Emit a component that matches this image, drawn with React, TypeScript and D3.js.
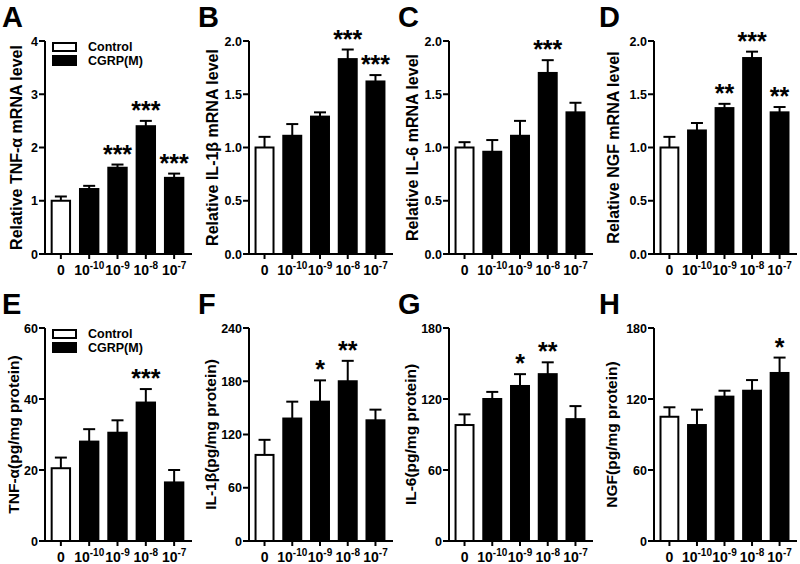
import React from "react";
import * as d3 from "d3";

const categories = ["0", "-10", "-9", "-8", "-7"];

const aValues = [1.0, 1.22, 1.62, 2.4, 1.43];
const aErrors = [0.08, 0.06, 0.06, 0.1, 0.08];
const aStars = ["", "", "***", "***", "***"];

const bValues = [1.0, 1.11, 1.29, 1.83, 1.62];
const bErrors = [0.1, 0.11, 0.04, 0.09, 0.06];
const bStars = ["", "", "", "***", "***"];

const cValues = [1.0, 0.96, 1.11, 1.7, 1.33];
const cErrors = [0.05, 0.11, 0.14, 0.12, 0.09];
const cStars = ["", "", "", "***", ""];

const dValues = [1.0, 1.16, 1.37, 1.84, 1.33];
const dErrors = [0.1, 0.07, 0.04, 0.06, 0.05];
const dStars = ["", "", "**", "***", "**"];

const eValues = [20.5, 28, 30.5, 39, 16.5];
const eErrors = [3, 3.5, 3.5, 3.8, 3.5];
const eStars = ["", "", "", "***", ""];

const fValues = [97, 138, 157, 180, 136];
const fErrors = [17, 19, 24, 23, 12];
const fStars = ["", "", "*", "**", ""];

const gValues = [98, 120, 131, 141, 103];
const gErrors = [9, 6, 10, 10, 11];
const gStars = ["", "", "*", "**", ""];

const hValues = [105, 98, 122, 127, 142];
const hErrors = [8, 13, 5, 9, 13];
const hStars = ["", "", "", "", "*"];

const ticksMRNA4 = [0, 1, 2, 3, 4];
const ticksMRNA2 = [0, 0.5, 1.0, 1.5, 2.0];
const ticks60 = [0, 20, 40, 60];
const ticks240 = [0, 60, 120, 180, 240];
const ticks180 = [0, 60, 120, 180];

const legendLabels = ["Control", "CGRP(M)"];

const FONT = "'Liberation Sans', Arial, sans-serif";

type PanelProps = {
  letter: string;
  letterX: number;
  letterY: number;
  axisX: number;
  axisEnd: number;
  top: number;
  bottom: number;
  max: number;
  ticks: number[];
  fmt: (v: number) => string;
  label: React.ReactNode;
  labelX: number;
  labelSize: number;
  values: number[];
  errors: number[];
  stars: string[];
  legend?: boolean;
};

function Panel(p: PanelProps) {
  const y = d3.scaleLinear().domain([0, p.max]).range([p.bottom, p.top]);
  const x = d3
    .scaleBand<string>()
    .domain(categories)
    .range([p.axisX, p.axisEnd - 2])
    .paddingInner(0.28)
    .paddingOuter(0.2);
  const bw = x.bandwidth();
  const labelY = (p.top + p.bottom) / 2;
  return (
    <g>
      <text x={p.letterX} y={p.letterY} fontFamily={FONT} fontWeight="bold" fontSize={29}>
        {p.letter}
      </text>
      <text
        transform={`translate(${p.labelX},${labelY}) rotate(-90)`}
        textAnchor="middle"
        fontFamily={FONT}
        fontWeight="bold"
        fontSize={p.labelSize}
      >
        {p.label}
      </text>
      {p.values.map((v, i) => {
        const c = categories[i];
        const x0 = x(c)!;
        const cx = x0 + bw / 2;
        const yTop = y(v);
        const yErr = y(v + p.errors[i]);
        return (
          <g key={c}>
            <line x1={cx} x2={cx} y1={yTop} y2={yErr} stroke="#000" strokeWidth={2} />
            <line x1={cx - 6} x2={cx + 6} y1={yErr} y2={yErr} stroke="#000" strokeWidth={2} />
            <rect
              x={x0 + 1}
              y={yTop}
              width={bw - 2}
              height={p.bottom - yTop}
              fill={i === 0 ? "#fff" : "#000"}
              stroke="#000"
              strokeWidth={2}
            />
            {p.stars[i] && (
              <text
                x={cx}
                y={yErr - 2}
                textAnchor="middle"
                fontFamily={FONT}
                fontWeight="bold"
                fontSize={25}
              >
                {p.stars[i]}
              </text>
            )}
            <line x1={cx} x2={cx} y1={p.bottom} y2={p.bottom + 5} stroke="#000" strokeWidth={2} />
            <text
              x={cx}
              y={p.bottom + 21}
              textAnchor="middle"
              fontFamily={FONT}
              fontWeight="bold"
              fontSize={14}
            >
              {c === "0" ? (
                "0"
              ) : (
                <>
                  <tspan>10</tspan>
                  <tspan fontSize={10} dy={-6}>
                    {c}
                  </tspan>
                </>
              )}
            </text>
          </g>
        );
      })}
      <line x1={p.axisX} x2={p.axisX} y1={p.top} y2={p.bottom + 1} stroke="#000" strokeWidth={2} />
      <line x1={p.axisX - 1} x2={p.axisEnd} y1={p.bottom} y2={p.bottom} stroke="#000" strokeWidth={2} />
      {p.ticks.map((t) => (
        <g key={t}>
          <line x1={p.axisX - 6} x2={p.axisX} y1={y(t)} y2={y(t)} stroke="#000" strokeWidth={2} />
          <text
            x={p.axisX - 7}
            y={y(t) + 4.5}
            textAnchor="end"
            fontFamily={FONT}
            fontWeight="bold"
            fontSize={12.5}
          >
            {p.fmt(t)}
          </text>
        </g>
      ))}
      {p.legend &&
        legendLabels.map((l, i) => (
          <g key={l}>
            <rect
              x={p.axisX + 8}
              y={p.top + 2 + i * 13}
              width={23}
              height={i === 0 ? 8 : 9}
              fill={i === 0 ? "#fff" : "#000"}
              stroke="#000"
              strokeWidth={2}
            />
            <text
              x={p.axisX + 43}
              y={p.top + 10 + i * 14}
              fontFamily={FONT}
              fontWeight="bold"
              fontSize={12.5}
            >
              {l}
            </text>
          </g>
        ))}
    </g>
  );
}

const f0 = (v: number) => d3.format("d")(v);
const f1 = (v: number) => d3.format(".1f")(v);

export default function App() {
  return (
    <svg width={800} height={564} style={{ position: "absolute", left: 0, top: 0, background: "#fff" }}>
      <rect width={800} height={564} fill="#fff" />
      <Panel letter="A" letterX={2} letterY={27} axisX={45} axisEnd={192} top={41} bottom={254} max={4}
        ticks={ticksMRNA4} fmt={f0} label={<>Relative TNF-α mRNA level</>} labelX={22} labelSize={16}
        values={aValues} errors={aErrors} stars={aStars} legend />
      <Panel letter="B" letterX={198} letterY={27} axisX={249} axisEnd={393} top={41} bottom={254} max={2}
        ticks={ticksMRNA2} fmt={f1} label={<>Relative IL-1β mRNA level</>} labelX={218} labelSize={16}
        values={bValues} errors={bErrors} stars={bStars} />
      <Panel letter="C" letterX={398} letterY={27} axisX={449} axisEnd={593} top={41} bottom={254} max={2}
        ticks={ticksMRNA2} fmt={f1} label={<>Relative IL-6 mRNA level</>} labelX={418} labelSize={16}
        values={cValues} errors={cErrors} stars={cStars} />
      <Panel letter="D" letterX={599} letterY={27} axisX={654} axisEnd={797} top={41} bottom={254} max={2}
        ticks={ticksMRNA2} fmt={f1} label={<>Relative NGF mRNA level</>} labelX={619} labelSize={16}
        values={dValues} errors={dErrors} stars={dStars} />
      <Panel letter="E" letterX={2} letterY={314} axisX={45} axisEnd={192} top={328} bottom={541} max={60}
        ticks={ticks60} fmt={f0} label={<>TNF-α(pg/mg protein)</>} labelX={19} labelSize={15.5}
        values={eValues} errors={eErrors} stars={eStars} legend />
      <Panel letter="F" letterX={198} letterY={314} axisX={249} axisEnd={393} top={328} bottom={541} max={240}
        ticks={ticks240} fmt={f0} label={<>IL-1β(pg/mg protein)</>} labelX={216} labelSize={15.5}
        values={fValues} errors={fErrors} stars={fStars} />
      <Panel letter="G" letterX={398} letterY={314} axisX={449} axisEnd={593} top={328} bottom={541} max={180}
        ticks={ticks180} fmt={f0} label={<>IL-6(pg/mg protein)</>} labelX={416} labelSize={15.5}
        values={gValues} errors={gErrors} stars={gStars} />
      <Panel letter="H" letterX={599} letterY={314} axisX={654} axisEnd={797} top={328} bottom={541} max={180}
        ticks={ticks180} fmt={f0} label={<>NGF(pg/mg protein)</>} labelX={617} labelSize={15.5}
        values={hValues} errors={hErrors} stars={hStars} />
    </svg>
  );
}
